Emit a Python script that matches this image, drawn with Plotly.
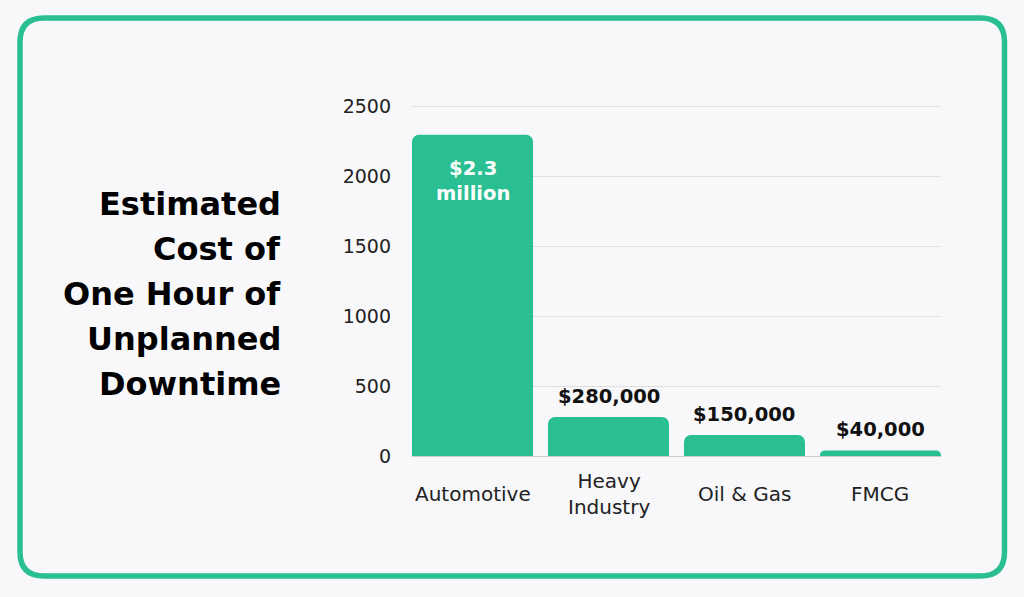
import plotly.graph_objects as go

categories = ["Automotive", "Heavy Industry", "Oil & Gas", "FMCG"]
category_labels = ["Automotive", "Heavy<br>Industry", "Oil & Gas", "FMCG"]
values = [2300, 280, 150, 40]
value_labels = ["$2.3<br>million", "$280,000", "$150,000", "$40,000"]
y_ticks = [0, 500, 1000, 1500, 2000, 2500]
title_lines = ["Estimated", "Cost of", "One Hour of", "Unplanned", "Downtime"]

GREEN = "#2abf92"
BG = "#f8f8fb"
FONT = "DejaVu Sans"

W, H = 1024, 597
L, R, T, B = 412, 83, 104, 141
pw, ph = W - L - R, H - T - B

def px2paper_x(px):
    return (px - L) / pw

def px2paper_y(py):
    return (H - B - py) / ph

fig = go.Figure()
fig.add_trace(go.Bar(
    x=categories, y=values, marker=dict(color=GREEN, line=dict(width=0)),
    hoverinfo="skip",
))

annotations = []
for i, (c, v, lab, cl) in enumerate(zip(categories, values, value_labels, category_labels)):
    if i == 0:
        annotations.append(dict(x=c, y=v, text=lab, showarrow=False, yanchor="top",
                                yshift=-20, font=dict(family=FONT, size=19.5, color="white", weight=700)))
    else:
        annotations.append(dict(x=c, y=v, text=lab, showarrow=False, yanchor="bottom",
                                yshift=7, font=dict(family=FONT, size=19.5, color="#111111", weight=700)))
    annotations.append(dict(x=c, xref="x", yref="paper", y=px2paper_y(494), text=cl,
                            showarrow=False, yanchor="middle", align="center",
                            font=dict(family=FONT, size=20, color="#222222")))

for k, line in enumerate(title_lines):
    annotations.append(dict(xref="paper", yref="paper", x=px2paper_x(283), y=px2paper_y(204 + 45 * k),
                            text=line, showarrow=False, xanchor="right", yanchor="middle",
                            align="right", font=dict(family=FONT, size=32, color="#000000", weight=700)))

# rounded border
x0, x1, y0, y1, r = 20, 1004.5, 18, 576, 24
def P(x, y):
    return f"{px2paper_x(x)},{px2paper_y(y)}"
path = (f"M {P(x0 + r, y0)} L {P(x1 - r, y0)} Q {P(x1, y0)} {P(x1, y0 + r)} "
        f"L {P(x1, y1 - r)} Q {P(x1, y1)} {P(x1 - r, y1)} "
        f"L {P(x0 + r, y1)} Q {P(x0, y1)} {P(x0, y1 - r)} "
        f"L {P(x0, y0 + r)} Q {P(x0, y0)} {P(x0 + r, y0)} Z")

fig.update_layout(
    width=W, height=H,
    margin=dict(l=L, r=R, t=T, b=B, autoexpand=False),
    paper_bgcolor=BG, plot_bgcolor=BG,
    bargap=0.11, barcornerradius=7,
    showlegend=False,
    font=dict(family=FONT, size=19, color="#222222"),
    annotations=annotations,
    shapes=[dict(type="path", xref="paper", yref="paper", path=path,
                 line=dict(color=GREEN, width=5.5), layer="above")],
    xaxis=dict(range=[-0.445, 3.445], showgrid=False, zeroline=False, showline=False,
               ticks="", showticklabels=False, fixedrange=True),
    yaxis=dict(range=[0, 2520], tickvals=y_ticks, showgrid=True, gridcolor="#e0e0e3",
               gridwidth=1.3, zeroline=True, zerolinecolor="#cccccc", zerolinewidth=1.3,
               showline=False, ticks="", ticklabelstandoff=20,
               tickfont=dict(size=19, color="#222222"), fixedrange=True),
)

fig.write_html("out.html", config={"displayModeBar": False},
               post_script="document.body.style.margin='0';")
